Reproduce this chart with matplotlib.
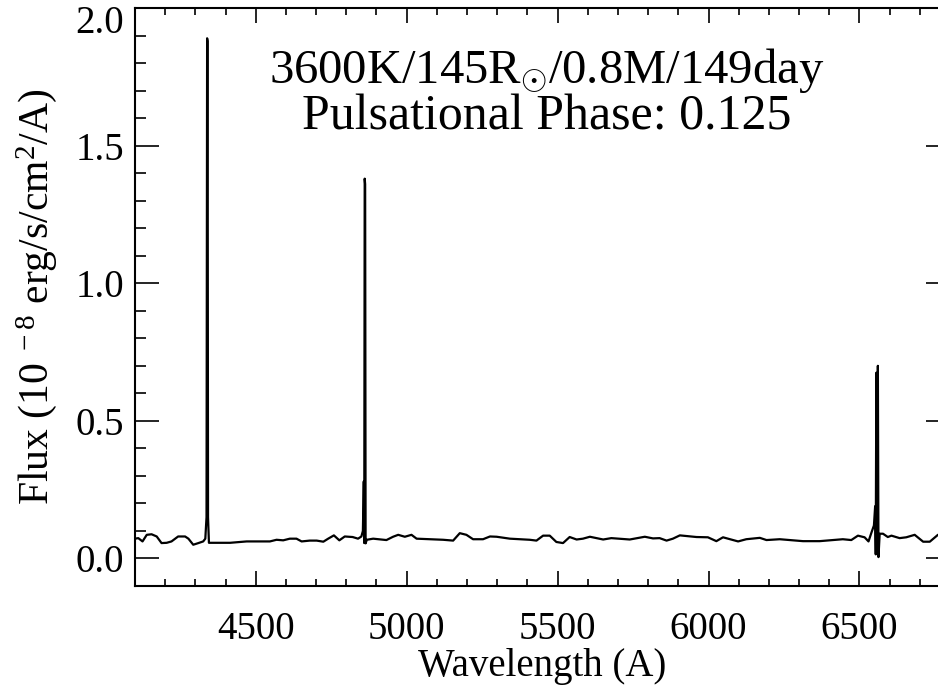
import numpy as np
import matplotlib
matplotlib.use("Agg")
import matplotlib.pyplot as plt
import matplotlib.transforms as mtransforms
from matplotlib.ticker import MultipleLocator

plt.rcParams.update({
    "font.family": "Liberation Serif",
    "mathtext.fontset": "custom",
    "mathtext.rm": "Liberation Serif",
    "mathtext.it": "Liberation Serif",
    "mathtext.sf": "Liberation Serif",
})

# continuum + emission lines (wavelength in A, flux in 1e-8)
wave = [4100, 4111, 4125, 4139, 4155, 4172, 4188, 4205, 4221, 4243, 4266, 4277,
        4293, 4310, 4326, 4333, 4337, 4339, 4340.5, 4342, 4345, 4359, 4415, 4470,
        4547, 4569, 4591, 4613, 4635, 4652, 4679, 4702, 4724, 4740, 4759, 4777,
        4795, 4821, 4839, 4850, 4855, 4858, 4859.5, 4861, 4862.5, 4864, 4868,
        4889, 4933, 4955, 4972, 4994, 5016, 5033, 5077, 5121, 5154, 5176, 5198,
        5220, 5253, 5276, 5298, 5342, 5408, 5430, 5452, 5474, 5496, 5518, 5540,
        5563, 5584, 5607, 5651, 5678, 5739, 5789, 5816, 5838, 5861, 5882, 5905,
        5960, 5998, 6026, 6048, 6098, 6125, 6170, 6192, 6236, 6313, 6368, 6445,
        6473, 6495, 6517, 6530, 6540, 6548, 6552, 6554, 6556, 6558, 6561, 6563,
        6567, 6578, 6594, 6606, 6633, 6655, 6683, 6711, 6733, 6760, 6800]
flux = [0.072, 0.074, 0.062, 0.086, 0.088, 0.080, 0.056, 0.057, 0.062, 0.080,
        0.080, 0.072, 0.050, 0.056, 0.062, 0.072, 0.150, 1.890, 1.880, 0.150,
        0.057, 0.057, 0.057, 0.062, 0.062, 0.068, 0.066, 0.072, 0.072, 0.062,
        0.065, 0.065, 0.061, 0.072, 0.084, 0.066, 0.080, 0.078, 0.072, 0.080,
        0.100, 0.280, 0.056, 1.380, 1.360, 0.055, 0.068, 0.072, 0.067, 0.079,
        0.086, 0.079, 0.086, 0.072, 0.070, 0.068, 0.065, 0.092, 0.086, 0.070,
        0.070, 0.080, 0.079, 0.072, 0.068, 0.065, 0.083, 0.083, 0.060, 0.056,
        0.078, 0.069, 0.072, 0.079, 0.069, 0.074, 0.069, 0.079, 0.073, 0.074,
        0.065, 0.072, 0.084, 0.078, 0.077, 0.063, 0.077, 0.062, 0.070, 0.075,
        0.067, 0.070, 0.063, 0.063, 0.070, 0.067, 0.083, 0.077, 0.062, 0.095,
        0.120, 0.190, 0.015, 0.675, 0.030, 0.700, 0.005, 0.090, 0.090, 0.078,
        0.083, 0.074, 0.077, 0.086, 0.061, 0.061, 0.086, 0.090]

fig = plt.figure(figsize=(9.38, 6.85), dpi=100)
# right spine sits just past the image edge, as in the original
ax = fig.add_axes([0.1439, 0.1445, 0.8689, 0.8438])

ax.plot(wave, flux, color="black", lw=1.6)

ax.set_xlim(4100, 6800)
ax.set_ylim(-0.1, 2.0)
ax.xaxis.set_major_locator(MultipleLocator(500))
ax.xaxis.set_minor_locator(MultipleLocator(100))
ax.yaxis.set_major_locator(MultipleLocator(0.5))
ax.yaxis.set_minor_locator(MultipleLocator(0.1))
ax.yaxis.set_major_formatter(plt.FuncFormatter(lambda v, p: f"{v:.1f}"))
ax.tick_params(which="both", direction="in", top=True, right=True,
               labelsize=28, width=1.2)
ax.tick_params(axis="x", which="major", length=11, pad=18)
ax.tick_params(axis="x", which="minor", length=5)
ax.tick_params(axis="y", which="major", length=17, pad=8)
ax.tick_params(axis="y", which="minor", length=8)
for s in ax.spines.values():
    s.set_linewidth(1.5)

ax.set_xlabel("Wavelength (A)", fontsize=28, labelpad=0)
ax.set_ylabel(r"Flux (10$^{\ -8}$ erg/s/cm$^2$/A)", fontsize=30, labelpad=12)

# top tick label is pushed down so it stays inside the figure
fig.canvas.draw()
for lab in ax.get_yticklabels():
    if lab.get_text() == "2.0":
        lab.set_transform(lab.get_transform() +
                          mtransforms.ScaledTranslation(0, -11 / 100, fig.dpi_scale_trans))

ax.text(0.505, 0.870, r"3600K/145R$_{\odot}$/0.8M/149day", transform=ax.transAxes,
        ha="center", va="baseline", fontsize=35)
ax.text(0.505, 0.790, "Pulsational Phase: 0.125", transform=ax.transAxes,
        ha="center", va="baseline", fontsize=36)

fig.savefig("out.png", dpi=100)
